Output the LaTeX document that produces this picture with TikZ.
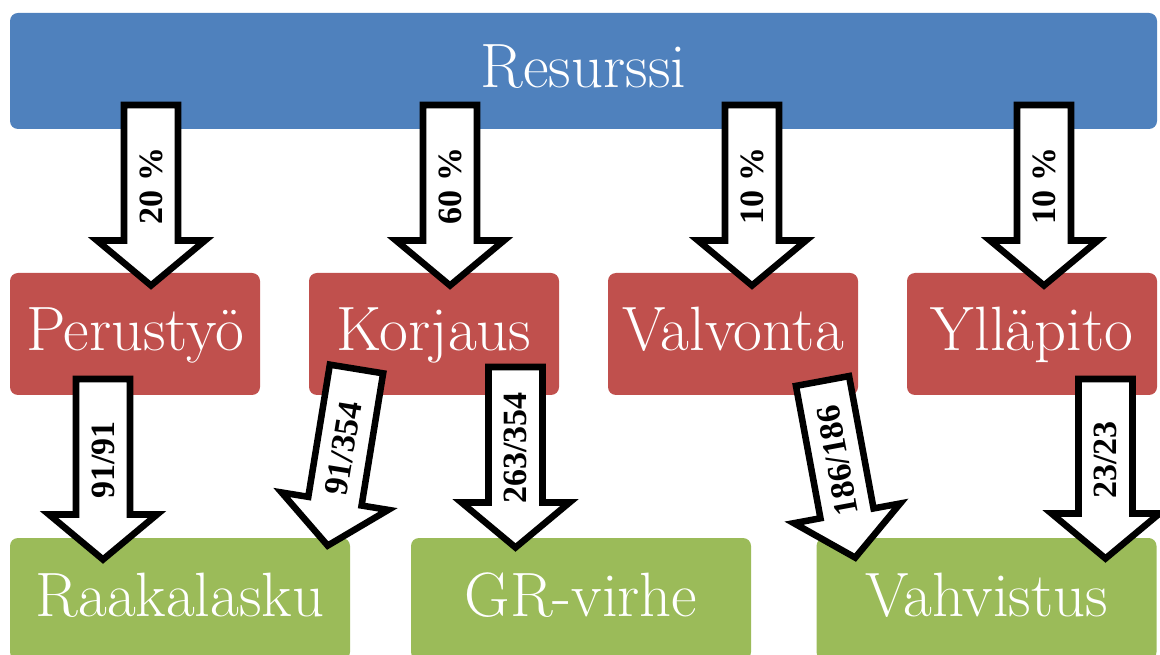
\documentclass[tikz,border=0pt]{standalone}
\usepackage{fontspec}
\newfontfamily\flowfont{Liberation Serif}
\usetikzlibrary{calc}

\definecolor{resblue}{HTML}{4F81BD}
\definecolor{taskred}{HTML}{C0504D}
\definecolor{outgreen}{HTML}{9BBB59}

\tikzset{
  box/.style={rectangle, rounded corners=6pt, text=white,
    font=\fontsize{47}{54}\selectfont, text height=25.5pt, text depth=0pt,
    inner sep=0pt, minimum height=91.5pt},
  topbox/.style={box, fill=resblue, minimum width=860.25pt, minimum height=87pt},
  taskbox/.style={box, fill=taskred, minimum width=187.5pt},
  outbox/.style={box, fill=outgreen, minimum width=255pt},
  flow/.style={draw=black, fill=white, line width=4.9pt, line join=miter},
  flowlabel/.style={font=\flowfont\bfseries\fontsize{25.5}{28}\selectfont, inner sep=0pt}
}

% Block arrow from #1 (middle of the tail) to #2 (tip), label node #3 with text #4
\newcommand{\flowarrow}[4]{%
  \coordinate (#3-hb) at ($(#2)!33.75pt!(#1)$);
  \draw[flow] ($(#1)!20.25pt!90:(#2)$) -- ($(#3-hb)!20.25pt!90:(#2)$)
    -- ($(#3-hb)!40.5pt!90:(#2)$) -- (#2) -- ($(#3-hb)!40.5pt!-90:(#2)$)
    -- ($(#3-hb)!20.25pt!-90:(#2)$) -- ($(#1)!20.25pt!-90:(#2)$) -- cycle;
  \path let \p1=($(#1)-(#2)$), \n1={atan2(\y1,\x1)} in
    node[flowlabel, rotate=\n1] (#3) at ($(#1)!0.45!(#2)$) {#4};
}

\begin{document}
\begin{tikzpicture}[x=0.75pt, y=-0.75pt]
\useasboundingbox (0,0) rectangle (1160,655);

% resource bar
\node[topbox] (res) at (583.5,71) {Resurssi};

% work categories
\node[taskbox] (per) at (135,334) {Perustyö};
\node[taskbox] (kor) at (434,334) {Korjaus};
\node[taskbox] (val) at (733,334) {Valvonta};
\node[taskbox] (yll) at (1032,334) {Ylläpito};

% outcomes
\node[outbox] (raa) at (180,599) {Raakalasku};
\node[outbox] (grv) at (581,599) {GR-virhe};
\node[outbox] (vah) at (986.5,599) {Vahvistus};

% arrow ends
\coordinate (res-per-s) at (151,105);  \coordinate (res-per-e) at (151,285.5);
\coordinate (res-kor-s) at (450,105);  \coordinate (res-kor-e) at (450,285.5);
\coordinate (res-val-s) at (752,105);  \coordinate (res-val-e) at (752,285.5);
\coordinate (res-yll-s) at (1044,105); \coordinate (res-yll-e) at (1044,285.5);

\coordinate (per-raa-s) at (103,379);     \coordinate (per-raa-e) at (103,559.5);
\coordinate (kor-raa-s) at (356.5,369);   \coordinate (kor-raa-e) at (327.7,545.6);
\coordinate (kor-grv-s) at (515.5,367);   \coordinate (kor-grv-e) at (515.5,547.5);
\coordinate (val-vah-s) at (822.5,381);   \coordinate (val-vah-e) at (855.2,557.6);
\coordinate (yll-vah-s) at (1105.5,379);  \coordinate (yll-vah-e) at (1105.5,558.5);

% resource shares
\flowarrow{res-per-s}{res-per-e}{l-per}{20 \%}
\flowarrow{res-kor-s}{res-kor-e}{l-kor}{60 \%}
\flowarrow{res-val-s}{res-val-e}{l-val}{10 \%}
\flowarrow{res-yll-s}{res-yll-e}{l-yll}{10 \%}

% outcome counts
\flowarrow{per-raa-s}{per-raa-e}{l-perraa}{91/91}
\flowarrow{kor-raa-s}{kor-raa-e}{l-korraa}{91/354}
\flowarrow{kor-grv-s}{kor-grv-e}{l-korgrv}{263/354}
\flowarrow{val-vah-s}{val-vah-e}{l-valvah}{186/186}
\flowarrow{yll-vah-s}{yll-vah-e}{l-yllvah}{23/23}
\end{tikzpicture}
\end{document}
